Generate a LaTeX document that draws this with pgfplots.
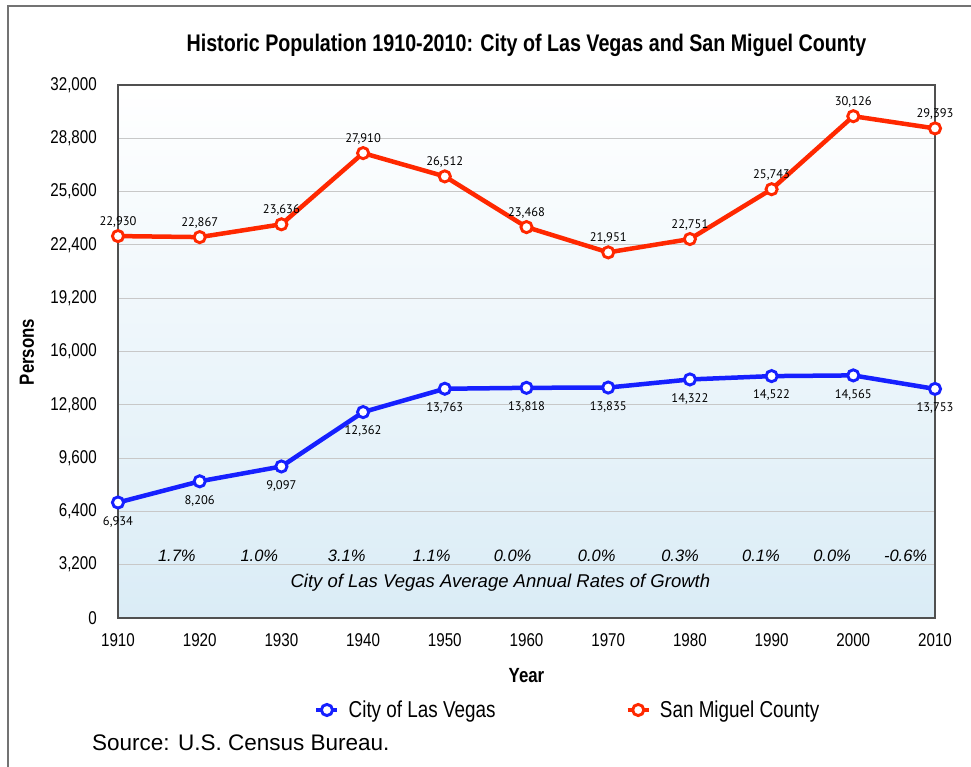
\documentclass[border=0pt]{standalone}
\usepackage{pgfplots}
\pgfplotsset{compat=1.18}
\usepackage{fontspec}
\setmainfont{Liberation Sans}
\newfontfamily\narrow[FakeStretch=0.82]{Liberation Sans}
\newfontfamily\lblfont{PT Sans}
\definecolor{lvblue}{RGB}{22,32,255}
\definecolor{smred}{RGB}{255,40,0}
\definecolor{bgbot}{RGB}{218,236,246}
\definecolor{bgmid}{RGB}{234,244,250}
\definecolor{gridc}{RGB}{200,200,200}
\definecolor{axc}{RGB}{80,80,80}
\begin{document}
\begin{tikzpicture}
\useasboundingbox (0pt,0pt) rectangle (971pt,767pt);
\draw[color=axc!80, line width=1.2pt] (8pt,-2pt) -- (8pt,761pt) -- (973pt,761pt);
\begin{axis}[
  at={(118pt,149pt)}, anchor=south west,
  scale only axis, width=817pt, height=533pt,
  xmin=1910, xmax=2010, ymin=0, ymax=32000,
  xtick={1910,1920,...,2010},
  ytick={0,3200,...,32000},
  scaled y ticks=false,
  /pgf/number format/.cd, assume math mode=true, 1000 sep={,}, /pgfplots/.cd,
  xticklabel={\narrow\fontsize{18.5}{18.5}\selectfont\pgfmathprintnumber[1000 sep={}]{\tick}},
  yticklabel={\narrow\fontsize{18.5}{18.5}\selectfont\pgfmathprintnumber{\tick}},
  xticklabel style={anchor=center, inner sep=0pt, yshift=-22pt},
  yticklabel style={anchor=east, inner sep=0pt, xshift=-21pt},
  major tick length=0pt,
  ymajorgrids, grid style={color=gridc, line width=1.1pt},
  axis line style={color=axc, line width=1.2pt},
  axis background/.style={shade, top color=white, middle color=bgmid, bottom color=bgbot},
  clip=false,
  title={\narrow\bfseries\fontsize{24}{24}\selectfont Historic Population 1910-2010: City of Las Vegas and San Miguel County},
  title style={at={(axis description cs:0.5,1.0525)}, anchor=base, inner sep=0pt},
  xlabel={\narrow\bfseries\fontsize{20.5}{20.5}\selectfont Year},
  xlabel style={at={(axis description cs:0.5,-0.1201)}, anchor=base, inner sep=0pt},
  ylabel={\narrow\bfseries\fontsize{20.5}{20.5}\selectfont Persons},
  ylabel style={at={(axis description cs:-0.1114,0.499)}, anchor=center, inner sep=0pt, rotate=0},
  legend columns=2,
  legend style={at={(axis description cs:0.2399,-0.1726)}, anchor=west, draw=none, fill=none,
    inner sep=0pt, font=\narrow\fontsize{23}{23}\selectfont,
    /tikz/every odd column/.append style={column sep=7pt},
    /tikz/every even column/.append style={column sep=128pt}},
  legend image code/.code={\draw[mark repeat=2,mark phase=2,#1] plot coordinates {(0pt,0pt) (10.5pt,0pt) (21pt,0pt)};},
]
\addplot[color=lvblue, line width=4.5pt, mark=*, mark size=5.6pt,
  mark options={fill=white, draw=lvblue, line width=2.9pt},
  nodes near coords={\lblfont\fontsize{12.5}{12.5}\selectfont\pgfmathprintnumber[assume math mode=true,1000 sep={,}]{\pgfplotspointmeta}},
  every node near coord/.append style={anchor=north, inner sep=0pt, yshift=-12.5pt, color=black}]
  coordinates {(1910,6934) (1920,8206) (1930,9097) (1940,12362) (1950,13763) (1960,13818) (1970,13835) (1980,14322) (1990,14522) (2000,14565) (2010,13753)};
\addlegendentry{City of Las Vegas}
\addplot[color=smred, line width=4.5pt, mark=*, mark size=5.6pt,
  mark options={fill=white, draw=smred, line width=2.9pt},
  nodes near coords={\lblfont\fontsize{12.5}{12.5}\selectfont\pgfmathprintnumber[assume math mode=true,1000 sep={,}]{\pgfplotspointmeta}},
  every node near coord/.append style={anchor=base, inner sep=0pt, yshift=10.5pt, color=black}]
  coordinates {(1910,22930) (1920,22867) (1930,23636) (1940,27910) (1950,26512) (1960,23468) (1970,21951) (1980,22751) (1990,25743) (2000,30126) (2010,29393)};
\addlegendentry{San Miguel County}
\begin{scope}[every node/.style={font=\itshape\fontsize{16.5}{16.5}\selectfont, inner sep=0pt}]
\node at (axis cs:1917.2,3740) {1.7\%};
\node at (axis cs:1927.3,3740) {1.0\%};
\node at (axis cs:1938.0,3740) {3.1\%};
\node at (axis cs:1948.4,3740) {1.1\%};
\node at (axis cs:1958.3,3740) {0.0\%};
\node at (axis cs:1968.6,3740) {0.0\%};
\node at (axis cs:1978.8,3740) {0.3\%};
\node at (axis cs:1988.7,3740) {0.1\%};
\node at (axis cs:1997.4,3740) {0.0\%};
\node at (axis cs:2006.4,3740) {-0.6\%};
\end{scope}
\node[font=\itshape\fontsize{18.5}{18.5}\selectfont, inner sep=0pt] at (axis cs:1956.8,2120) {City of Las Vegas Average Annual Rates of Growth};
\end{axis}
\node[anchor=west, inner sep=0pt, font=\fontsize{22.5}{22.5}\selectfont] at (92pt,24pt) {Source: U.S. Census Bureau.};
\end{tikzpicture}
\end{document}
